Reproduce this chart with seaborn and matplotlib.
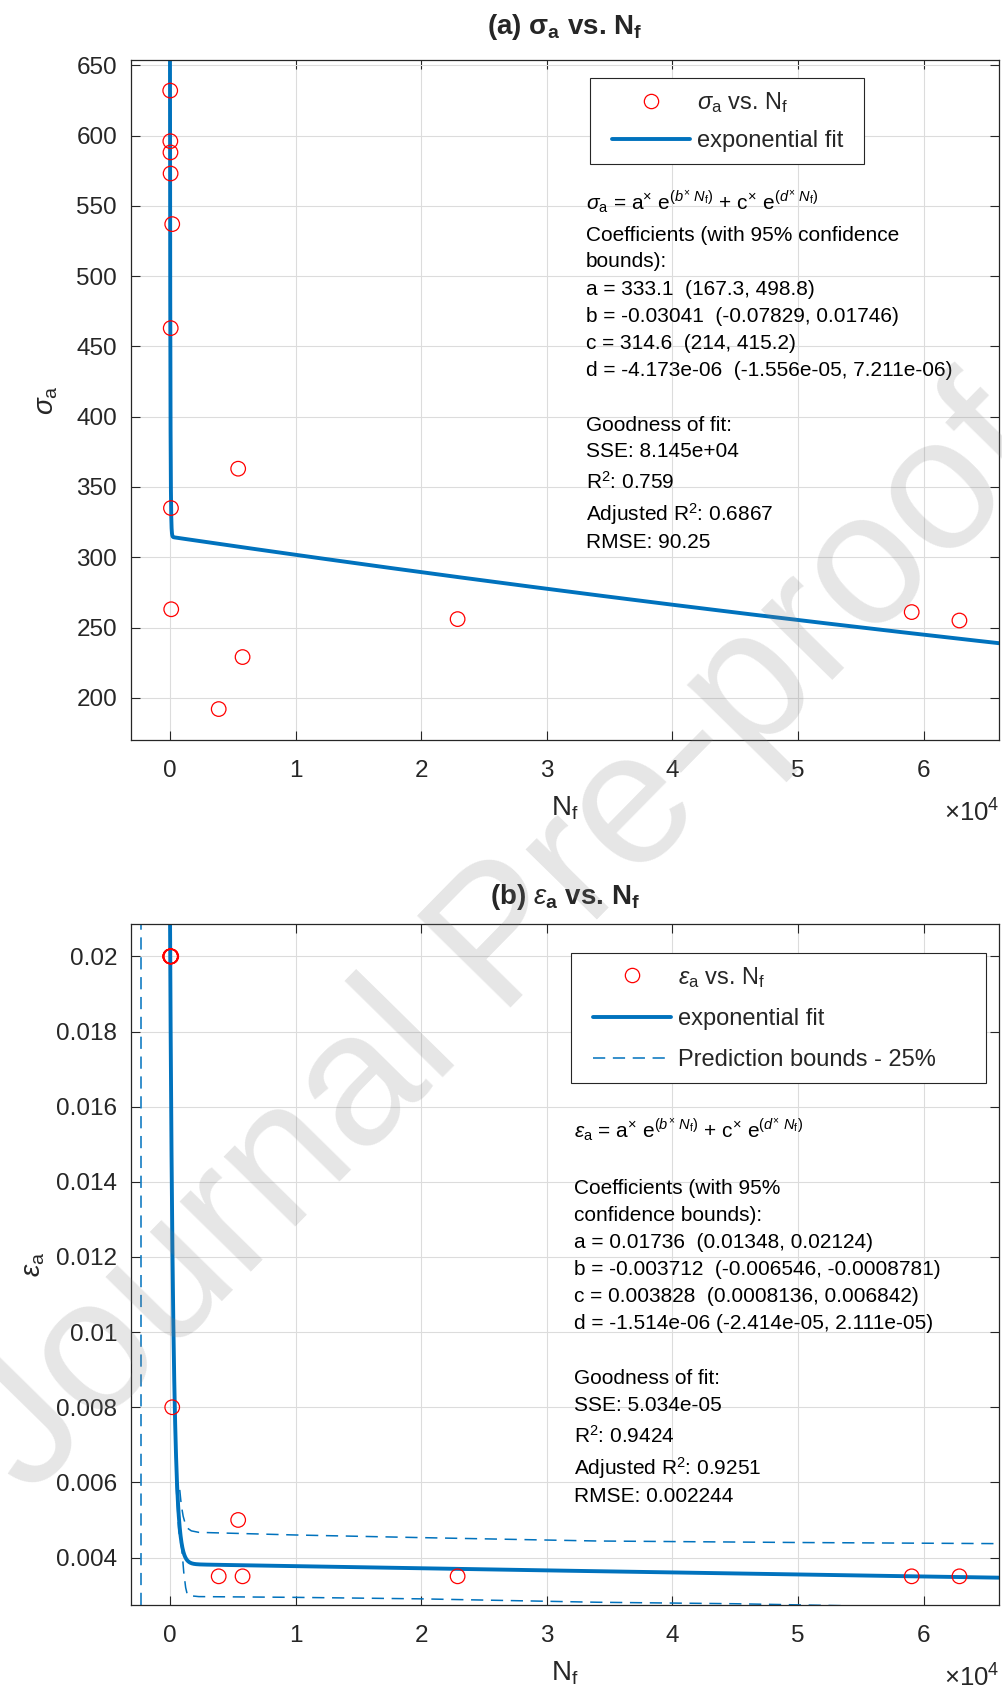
import numpy as np
import pandas as pd
import matplotlib
matplotlib.use("Agg")
import matplotlib.pyplot as plt
from matplotlib.lines import Line2D
from matplotlib.legend_handler import HandlerLine2D
from matplotlib.ticker import FuncFormatter, FixedLocator
import seaborn as sns

# ---- fatigue test results -------------------------------------------------
cycles = [20, 30, 40, 50, 180, 60, 80, 100, 5430, 5780, 3880, 22900, 59050, 62850]
stress_amp = [632, 596, 588, 573, 537, 463, 335, 263, 363, 229, 192, 256, 261, 255]
strain_amp = [0.02, 0.02, 0.02, 0.02, 0.008, 0.02, 0.02, 0.02,
              0.005, 0.0035, 0.0035, 0.0035, 0.0035, 0.0035]

# two-term exponential fits  y = a*exp(b*N) + c*exp(d*N), coefficients [a, b, c, d]
stress_coef = [333.1, -0.03041, 314.6, -4.173e-06]
strain_coef = [0.01736, -0.003712, 0.003828, -1.514e-06]

# 25% prediction bounds of the strain fit
upper_cycles = [780, 900, 1050, 1200, 1400, 1700, 2300, 10000, 20000, 34000, 50000, 66000]
upper_strain = [0.0058, 0.0054, 0.0051, 0.00492, 0.00478, 0.00471, 0.00467,
                0.00460, 0.00453, 0.00444, 0.00440, 0.00437]
lower_cycles = [480, 700, 940, 1100, 1250, 1390, 1700, 2300, 10000, 20000,
                34000, 45000, 55000, 62000]
lower_strain = [0.0060, 0.0047, 0.00425, 0.0036, 0.0032, 0.0030, 0.00298, 0.00296,
                0.00294, 0.00290, 0.00281, 0.00277, 0.00271, 0.00267]
bound_asymptote = [-2330]

# axis ticks
cycle_ticks = [0, 10000, 20000, 30000, 40000, 50000, 60000]
stress_ticks = [200, 250, 300, 350, 400, 450, 500, 550, 600, 650]
strain_ticks = [0.004, 0.006, 0.008, 0.01, 0.012, 0.014, 0.016, 0.018, 0.02]

stress_text = [
    r"$\sigma_{\rm a}$ = a$^{\times}$ e$^{(b^{\times}\ N_{\rm f})}$ + c$^{\times}$ e$^{(d^{\times}\ N_{\rm f})}$",
    "Coefficients (with 95% confidence",
    "bounds):",
    "a = 333.1  (167.3, 498.8)",
    "b = -0.03041  (-0.07829, 0.01746)",
    "c = 314.6  (214, 415.2)",
    "d = -4.173e-06  (-1.556e-05, 7.211e-06)",
    "Goodness of fit:",
    "SSE: 8.145e+04",
    r"R$^2$: 0.759",
    r"Adjusted R$^2$: 0.6867",
    "RMSE: 90.25",
]
strain_text = [
    r"$\epsilon_{\rm a}$ = a$^{\times}$ e$^{(b^{\times}\ N_{\rm f})}$ + c$^{\times}$ e$^{(d^{\times}\ N_{\rm f})}$",
    "Coefficients (with 95%",
    "confidence bounds):",
    "a = 0.01736  (0.01348, 0.02124)",
    "b = -0.003712  (-0.006546, -0.0008781)",
    "c = 0.003828  (0.0008136, 0.006842)",
    "d = -1.514e-06 (-2.414e-05, 2.111e-05)",
    "Goodness of fit:",
    "SSE: 5.034e-05",
    r"R$^2$: 0.9424",
    r"Adjusted R$^2$: 0.9251",
    "RMSE: 0.002244",
]

# ---- style ---------------------------------------------------------------
sns.set_style("ticks")
plt.rcParams.update({
    "font.family": ["Liberation Sans", "DejaVu Sans"],
    "mathtext.fontset": "custom",
    "mathtext.rm": "Liberation Sans",
    "mathtext.it": "Liberation Sans:italic",
    "mathtext.bf": "Liberation Sans:bold",
    "axes.edgecolor": "#262626",
    "axes.linewidth": 0.9,
    "xtick.color": "#262626",
    "ytick.color": "#262626",
})

BLUE = "#0072BD"
AX_COLOR = "#262626"
XLIM = (-3105, 66000)


def two_term_exp(n, coef):
    a, b, c, d = coef
    return a * np.exp(b * n) + c * np.exp(d * n)


def style_axes(ax, yticks, yfmt):
    ax.set_xlim(*XLIM)
    ax.xaxis.set_major_locator(FixedLocator(cycle_ticks))
    ax.yaxis.set_major_locator(FixedLocator(yticks))
    ax.xaxis.set_major_formatter(FuncFormatter(lambda v, _: f"{v / 1e4:g}"))
    ax.yaxis.set_major_formatter(FuncFormatter(yfmt))
    ax.tick_params(direction="in", length=6.5, width=0.8, labelsize=17.5,
                   top=True, right=True, colors=AX_COLOR, labelcolor="#262626")
    ax.tick_params(axis="x", pad=14.5)
    ax.tick_params(axis="y", pad=10)
    ax.grid(True, color="#dcdcdc", linewidth=0.8)
    ax.set_axisbelow(True)
    for sp in ax.spines.values():
        sp.set_visible(True)
        sp.set_color(AX_COLOR)
        sp.set_linewidth(0.9)
    ax.text(1.0, -82 / 680, "×10$^{4}$", transform=ax.transAxes,
            ha="right", va="baseline", fontsize=18.5, color="#262626")


fig = plt.figure(figsize=(10.02, 16.98), dpi=100)
ax1 = fig.add_axes([0.1307, 0.5642, 0.8663, 0.4005])
ax2 = fig.add_axes([0.1307, 0.0548, 0.8663, 0.4011])

handler = {Line2D: HandlerLine2D(xpad=0.45)}
leg_kw = dict(loc="upper left", borderaxespad=0, frameon=True, fancybox=False,
              edgecolor=AX_COLOR, framealpha=1, fontsize=17, handlelength=3.75,
              handletextpad=0.3, mode="expand", handler_map=handler)

# ---- (a) stress amplitude ------------------------------------------------
n_top = np.unique(np.concatenate([np.linspace(-150, 0, 400),
                                  np.linspace(0, 3000, 3001),
                                  np.linspace(3000, 66000, 600)]))
fit_df = pd.DataFrame({"N": n_top, "fit": two_term_exp(n_top, stress_coef)})
pts_df = pd.DataFrame({"N": cycles, "stress": stress_amp, "strain": strain_amp})

sns.lineplot(data=fit_df, x="N", y="fit", ax=ax1, color=BLUE, linewidth=2.8,
             estimator=None, sort=False, zorder=2)
sns.scatterplot(data=pts_df, x="N", y="stress", ax=ax1, marker="o", s=110,
                facecolor="none", edgecolor="red", linewidth=0.9, zorder=3)
ax1.set_ylim(170, 653.8)
style_axes(ax1, stress_ticks, lambda v, _: f"{v:g}")
ax1.set_title(r"(a) σ$_{\mathbf{a}}$ vs. N$_{\mathbf{f}}$", fontsize=20,
              fontweight="bold", pad=19)
ax1.set_xlabel(r"N$_{\rm f}$", fontsize=20)
ax1.set_ylabel(r"$\sigma_{\rm a}$", fontsize=20)
ax1.xaxis.set_label_coords(0.5, -55 / 680)
ax1.yaxis.set_label_coords(-0.082, 0.5)

h_pts1 = Line2D([], [], ls="none", marker="o", mfc="none", mec="red", ms=10.3, mew=0.9)
h_fit = Line2D([], [], color=BLUE, lw=2.8)
h_bnd = Line2D([], [], color=BLUE, lw=1.1, ls=(0, (8, 5)))
lg1 = ax1.legend([h_pts1, h_fit],
                 [r"$\sigma_{\rm a}$ vs. N$_{\rm f}$", "exponential fit"],
                 bbox_to_anchor=(0.5288, 0.9735 - 0.2, 0.3157, 0.2),
                 borderpad=0.5, labelspacing=0.65, **leg_kw)
lg1.get_frame().set_linewidth(0.8)

top_base = [209.3, 241, 267.3, 295, 322.3, 349.3, 376, 430.7, 457.3, 489.3, 521, 548.3]
for s, yb in zip(stress_text, top_base):
    ax1.text(0.5242, (740 - yb) / 680, s, transform=ax1.transAxes,
             fontsize=15, va="baseline", ha="left", color="black")

# ---- (b) strain amplitude ------------------------------------------------
n_bot = np.unique(np.concatenate([np.linspace(-800, 0, 400),
                                  np.linspace(0, 4000, 4001),
                                  np.linspace(4000, 66000, 600)]))
fit2_df = pd.DataFrame({"N": n_bot, "fit": two_term_exp(n_bot, strain_coef)})
up_df = pd.DataFrame({"N": upper_cycles, "bound": upper_strain})
lo_df = pd.DataFrame({"N": lower_cycles, "bound": lower_strain})

for bdf in (up_df, lo_df):
    sns.lineplot(data=bdf, x="N", y="bound", ax=ax2, color=BLUE, linewidth=1.1,
                 linestyle=(0, (8, 5)), estimator=None, sort=False, zorder=2)
for xa in bound_asymptote:
    ax2.axvline(xa, color=BLUE, linewidth=1.1, linestyle=(0, (8, 5)), zorder=2)
sns.lineplot(data=fit2_df, x="N", y="fit", ax=ax2, color=BLUE, linewidth=2.8,
             estimator=None, sort=False, zorder=2.5)
sns.scatterplot(data=pts_df, x="N", y="strain", ax=ax2, marker="o", s=110,
                facecolor="none", edgecolor="red", linewidth=0.9, zorder=3)
ax2.set_ylim(0.002738, 0.020865)
style_axes(ax2, strain_ticks, lambda v, _: f"{v:g}")
ax2.set_title(r"(b) $\epsilon$$_{\mathbf{a}}$ vs. N$_{\mathbf{f}}$", fontsize=20,
              fontweight="bold", pad=14)
ax2.set_xlabel(r"N$_{\rm f}$", fontsize=20)
ax2.set_ylabel(r"$\epsilon_{\rm a}$", fontsize=20)
ax2.xaxis.set_label_coords(0.5, -55 / 681)
ax2.yaxis.set_label_coords(-0.097, 0.5)

h_pts2 = Line2D([], [], ls="none", marker="o", mfc="none", mec="red", ms=10.3, mew=0.9)
lg2 = ax2.legend([h_pts2, h_fit, h_bnd],
                 [r"$\epsilon_{\rm a}$ vs. N$_{\rm f}$", "exponential fit",
                  "Prediction bounds - 25%"],
                 bbox_to_anchor=(0.507, 0.9574 - 0.2, 0.478, 0.2),
                 borderpad=0.5, labelspacing=0.8, **leg_kw)
lg2.get_frame().set_linewidth(0.8)

bot_base = [1137.2, 1194.5, 1221.2, 1247.8, 1274.8, 1301.8, 1329.2, 1384,
            1410.6, 1442.4, 1474.6, 1501.6]
for s, yb in zip(strain_text, bot_base):
    ax2.text(0.5104, (1605 - yb) / 681, s, transform=ax2.transAxes,
             fontsize=15, va="baseline", ha="left", color="black")

# publisher watermark
fig.text(0.505, 0.445, "Journal Pre-proof", rotation=45.5, rotation_mode="anchor",
         ha="center", va="center", fontsize=136, color="#808080", alpha=0.2,
         zorder=10)

fig.savefig("out.png", dpi=100)
